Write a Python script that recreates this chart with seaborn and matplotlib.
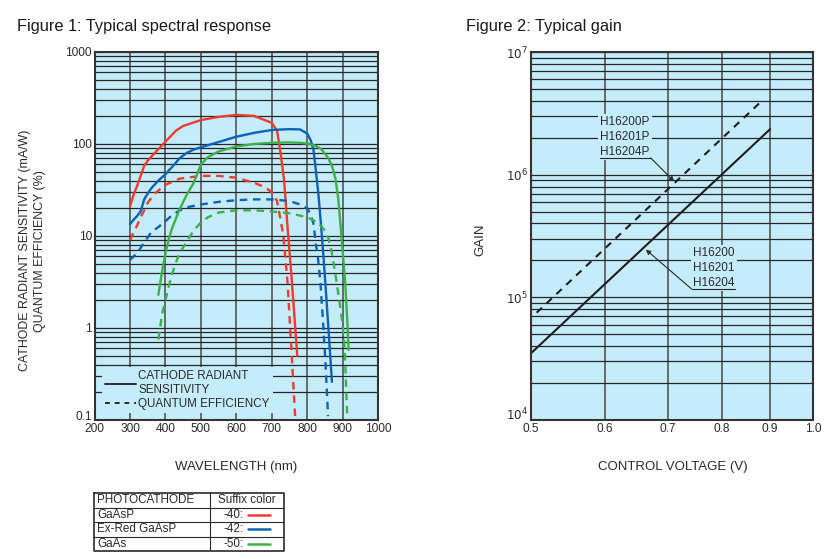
import numpy as np
import pandas as pd
import matplotlib
matplotlib.use("Agg")
import matplotlib.pyplot as plt
import seaborn as sns
from matplotlib.lines import Line2D
from matplotlib.ticker import LogLocator, NullFormatter, NullLocator

sns.set_style("ticks")
plt.rcParams['font.family'] = ['Liberation Sans', 'DejaVu Sans']

# ---- Figure 1 data: spectral response (wavelength nm, value) ----
gaasp_nm = [300, 310, 320, 330, 340, 350, 370, 400, 430, 450, 500, 550, 600, 650, 700,
            715, 725, 735, 745, 755, 765, 772]
gaasp_sens = [21, 28, 35, 45, 58, 66, 80, 106, 140, 157, 182, 197, 207, 202, 170,
              140, 80, 40, 12, 4, 1.2, 0.5]
gaasp_qe_nm = [300, 310, 320, 330, 340, 350, 370, 400, 440, 500, 550, 600, 650, 680, 700,
               715, 725, 733, 740, 745, 752, 758, 766]
gaasp_qe = [9, 11, 13, 16, 19, 23, 29, 36, 42, 45, 45, 43, 38, 34, 30,
            24, 15, 10, 5, 3, 1.0, 0.4, 0.11]

exred_nm = [300, 310, 320, 330, 340, 350, 360, 380, 400, 420, 440, 460, 480, 500, 550, 600,
            650, 700, 750, 780, 800, 810, 818, 825, 832, 840, 846, 853, 860, 870]
exred_sens = [13.5, 15, 16.5, 18.5, 25, 29, 33, 40, 47, 57, 70, 80, 87, 92, 105, 120,
              132, 142, 145, 144, 130, 110, 86, 50, 28, 12, 6, 2.5, 1.0, 0.26]
exred_qe_nm = [300, 320, 340, 360, 380, 400, 420, 440, 460, 500, 550, 600, 650, 700, 750,
               780, 800, 810, 818, 825, 830, 837, 846, 852, 859]
exred_qe = [5.5, 6.5, 8.5, 11, 12.5, 14.5, 17, 19, 20.5, 22, 23.5, 24.5, 25, 25, 24,
            22, 20, 17, 13.5, 8, 6, 3.3, 1.0, 0.4, 0.11]

gaas_nm = [380, 390, 400, 410, 420, 440, 460, 480, 500, 520, 550, 600, 650, 700, 750, 780,
           800, 820, 840, 860, 870, 880, 888, 895, 900, 907, 912, 917]
gaas_sens = [2.3, 4, 6.5, 9.5, 12.5, 19.5, 28, 38, 60, 72, 83, 94, 100, 103, 104, 103,
             101, 97, 88, 70, 58, 42, 25, 12, 7, 3.3, 1.5, 0.58]
gaas_qe_nm = [380, 385, 390, 400, 410, 420, 430, 440, 460, 480, 500, 520, 550, 600, 650,
              700, 750, 800, 830, 850, 860, 870, 880, 890, 900, 906, 913]
gaas_qe = [0.75, 1.0, 1.4, 2.0, 2.9, 4.0, 5.2, 6.5, 8.7, 11.5, 14, 16, 18, 19, 19,
           18.5, 17.7, 16, 14, 11.5, 9.5, 6.5, 3.8, 2.1, 1.1, 0.6, 0.11]

red, blue, green = '#ee3b2b', '#0b62b6', '#3db04a'

# ---- Figure 2 data: gain vs control voltage ----
volt_std = [0.5, 0.9]
gain_std = [3.5e4, 2.35e6]
volt_p = [0.507, 0.885]
gain_p = [7.5e4, 4.1e6]

# ---- table ----
cathodes = ['GaAsP', 'Ex-Red GaAsP', 'GaAs']
suffixes = ['-40:', '-42:', '-50:']
suffix_colors = [red, blue, green]

bg = '#c5ecfa'
ink = '#2a2a2a'
dash = (0, (3.2, 2.4))

fig = plt.figure(figsize=(8.35, 5.59), dpi=100)
ax1 = fig.add_axes([94.6 / 835, 1 - 420 / 559, 283.4 / 835, 368 / 559])
ax2 = fig.add_axes([531 / 835, 1 - 420 / 559, 282 / 835, 368 / 559])

# ---------- Figure 1 ----------
ax1.set_facecolor(bg)
series = [(gaasp_nm, gaasp_sens, red, '-'), (gaasp_qe_nm, gaasp_qe, red, dash),
          (exred_nm, exred_sens, blue, '-'), (exred_qe_nm, exred_qe, blue, dash),
          (gaas_nm, gaas_sens, green, '-'), (gaas_qe_nm, gaas_qe, green, dash)]
for xs, ys, c, ls in series:
    sns.lineplot(x=xs, y=ys, ax=ax1, color=c, linestyle=ls, linewidth=1.7,
                 estimator=None, sort=False, zorder=3)
ax1.set_yscale('log')
ax1.set_xlim(200, 1000)
ax1.set_ylim(0.1, 1000)
ax1.set_xticks(range(200, 1001, 100))
ax1.set_yticks([0.1, 1, 10, 100, 1000])
ax1.set_yticklabels(['0.1', '1', '10', '100', '1000'])
ax1.yaxis.set_minor_locator(LogLocator(base=10, subs=np.arange(2, 10)))
ax1.yaxis.set_minor_formatter(NullFormatter())
ax1.grid(which='both', axis='y', color='#262626', lw=0.9, zorder=1)
ax1.grid(which='major', axis='x', color='#555555', lw=1.2, zorder=1)
ax1.set_axisbelow(True)
ax1.set_xlabel('WAVELENGTH (nm)', fontsize=9.5, color=ink)
ax1.set_ylabel('CATHODE RADIANT SENSITIVITY (mA/W)\nQUANTUM EFFICIENCY (%)',
               fontsize=8.9, color=ink, linespacing=1.3)
ax1.xaxis.set_label_coords(0.5, -0.111)
ax1.yaxis.set_label_coords(-0.172, 0.46)

handles = [Line2D([], [], color=ink, lw=1.4, ls='-'),
           Line2D([], [], color=ink, lw=1.4, ls=(0, (2.5, 2.5)))]
leg = ax1.legend(handles, ['CATHODE RADIANT\nSENSITIVITY', 'QUANTUM EFFICIENCY'],
                 loc='lower left', bbox_to_anchor=(0.026, 0.018), fontsize=8.4,
                 frameon=True, facecolor=bg, edgecolor='none', framealpha=1,
                 fancybox=False, handlelength=2.6, handletextpad=0.2,
                 borderpad=0.3, labelspacing=0.15, borderaxespad=0)
for t in leg.get_texts():
    t.set_color(ink)
leg.set_zorder(2)

# ---------- Figure 2 ----------
ax2.set_facecolor(bg)
sns.lineplot(x=volt_p, y=gain_p, ax=ax2, color='#1e1e1e', linestyle=(0, (3.5, 3)),
             linewidth=1.5, estimator=None, zorder=3)
sns.lineplot(x=volt_std, y=gain_std, ax=ax2, color='#1e1e1e', linestyle='-',
             linewidth=1.5, estimator=None, zorder=3)
ax2.set_xscale('log')
ax2.set_yscale('log')
ax2.set_xlim(0.5, 1.0)
ax2.set_ylim(1e4, 1e7)
ax2.xaxis.set_minor_locator(NullLocator())
ax2.set_xticks([0.5, 0.6, 0.7, 0.8, 0.9, 1.0])
ax2.set_xticklabels(['0.5', '0.6', '0.7', '0.8', '0.9', '1.0'])
ax2.set_yticks([1e4, 1e5, 1e6, 1e7])
ax2.set_yticklabels(['$10^4$', '$10^5$', '$10^6$', '$10^7$'])
ax2.yaxis.set_minor_locator(LogLocator(base=10, subs=np.arange(2, 10)))
ax2.yaxis.set_minor_formatter(NullFormatter())
ax2.grid(which='both', axis='y', color='#262626', lw=0.9, zorder=1)
ax2.grid(which='major', axis='x', color='#555555', lw=1.2, zorder=1)
ax2.set_axisbelow(True)
ax2.set_xlabel('CONTROL VOLTAGE (V)', fontsize=9.5, color=ink)
ax2.set_ylabel('GAIN', fontsize=9.5, color=ink)
ax2.xaxis.set_label_coords(0.503, -0.111)
ax2.yaxis.set_label_coords(-0.157, 0.49)

# annotations
lab_p = dict(text='H16200P\nH16201P\nH16204P', pos=(0.593, 2.03e6),
             under=([0.593, 0.671], 1.37e6), tip=(0.711, 8.8e5))
lab_s = dict(text='H16200\nH16201\nH16204', pos=(0.7445, 1.74e5),
             under=([0.742, 0.826], 1.17e5), tip=(0.663, 2.45e5))
for lab, corner in [(lab_p, 1), (lab_s, 0)]:
    ax2.text(*lab['pos'], lab['text'], fontsize=8.5, color=ink, ha='left', va='center',
             linespacing=1.3, zorder=4,
             bbox=dict(facecolor=bg, edgecolor='none', pad=1.5))
    ux, uy = lab['under']
    ax2.plot(ux, [uy, uy], color=ink, lw=0.8, zorder=4)
    ax2.annotate('', xy=lab['tip'], xytext=(ux[corner], uy),
                 arrowprops=dict(arrowstyle='-|>', color=ink, lw=0.8,
                                 mutation_scale=7, shrinkA=0, shrinkB=0), zorder=4)

for ax in (ax1, ax2):
    for s in ax.spines.values():
        s.set_color('#333333')
        s.set_linewidth(1.5)
        s.set_zorder(5)
    ax.tick_params(which='both', length=0, labelsize=8.6, colors=ink, pad=2)
    # bottom y label sits above the corner, as in the original
    ax.get_yticklabels()[0].set_verticalalignment('baseline')

# titles
fig.text(17 / 835, 1 - 27 / 559, 'Figure 1: Typical spectral response', fontsize=11.8,
         color='#1a1a1a', va='center', ha='left')
fig.text(466 / 835, 1 - 27 / 559, 'Figure 2: Typical gain', fontsize=11.8,
         color='#1a1a1a', va='center', ha='left')

# ---------- table ----------
tab = fig.add_axes([94 / 835, 1 - 551 / 559, 190 / 835, 58 / 559])
tab.set_xlim(0, 190)
tab.set_ylim(4, 0)
tab.axis('off')
col_div = 116
tab.plot([0, 190, 190, 0, 0], [0, 0, 4, 4, 0], color=ink, lw=1.2, clip_on=False)
for r in range(1, 4):
    tab.plot([0, 190], [r, r], color=ink, lw=0.8)
tab.plot([col_div, col_div], [0, 4], color=ink, lw=0.8)
tab.text(3, 0.5, 'PHOTOCATHODE', fontsize=8.4, color=ink, va='center', ha='left')
tab.text((col_div + 190) / 2, 0.5, 'Suffix color', fontsize=8.4, color=ink,
         va='center', ha='center')
for i, (name, suf, c) in enumerate(zip(cathodes, suffixes, suffix_colors)):
    y = i + 1.5
    tab.text(3, y, name, fontsize=8.4, color=ink, va='center', ha='left')
    tab.text(150, y, suf, fontsize=8.4, color=ink, va='center', ha='right')
    tab.plot([154, 176], [y, y], color=c, lw=1.8)

fig.savefig('out.png', dpi=100, facecolor='white')
